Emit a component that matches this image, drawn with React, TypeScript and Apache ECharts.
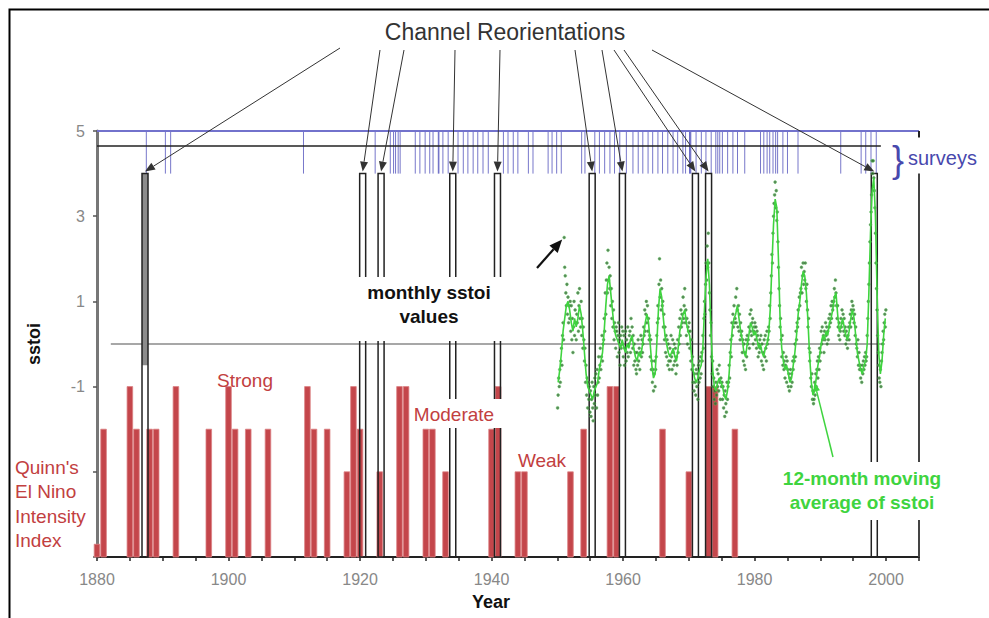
import React, { useEffect, useRef } from "react";
import * as echarts from "echarts";

// Quinn's El Nino intensity index (bar tops: -1 strong, -2 moderate, -3 weak)
const quinnYears = [1880, 1881, 1885, 1886, 1888, 1889, 1892, 1897, 1900, 1901, 1903, 1906, 1912, 1913, 1915, 1918, 1919, 1920, 1923, 1926, 1927, 1930, 1931, 1933, 1940, 1941, 1944, 1945, 1952, 1954, 1958, 1959, 1966, 1970, 1973, 1974, 1977];
const quinnLevel = [-4.7, -2, -1, -2, -2, -2, -1, -2, -1, -2, -2, -2, -1, -2, -2, -3, -1, -2, -3, -1, -1, -2, -2, -3, -2, -1, -3, -3, -3, -2, -1, -1, -2, -3, -1, -1, -2];

// Channel reorientations
const channelYears = [1887.3, 1920.4, 1923.2, 1934.1, 1940.9, 1955.3, 1959.9, 1971.0, 1973.0, 1998.2];
const channelShadeTo = [-0.5, 4, 4, 4, 4, 4, 4, 4, 4, 4];

// Surveys
const surveyYears = [1887.5, 1890.4, 1891.2, 1911.4, 1922.3, 1924.6, 1925.1, 1925.4, 1925.8, 1926.1, 1928.4, 1929.1, 1929.9, 1930.6, 1931.1, 1931.9, 1932.0, 1932.6, 1933.4, 1934.9, 1935.7, 1936.4, 1937.2, 1937.9, 1938.7, 1939.5, 1941.8, 1942.5, 1943.3, 1944.0, 1945.6, 1946.3, 1948.6, 1949.2, 1949.9, 1950.6, 1953.7, 1954.2, 1955.7, 1956.4, 1957.2, 1958.0, 1958.7, 1959.5, 1960.5, 1961.5, 1962.3, 1963.0, 1963.8, 1964.5, 1965.3, 1966.0, 1966.8, 1967.6, 1968.3, 1969.1, 1969.5, 1970.1, 1970.2, 1970.3, 1971.1, 1971.9, 1972.6, 1973.4, 1974.1, 1974.4, 1974.7, 1975.1, 1975.9, 1976.7, 1977.4, 1978.5, 1980.9, 1981.4, 1981.9, 1982.3, 1982.8, 1983.2, 1983.5, 1984.3, 1985.0, 1986.6, 1993.1, 1996.2, 1996.9, 1997.7, 1998.5];

// Monthly sstoi values, one row per year starting 1950
const sstoiStartYear = 1950;
const sstoiMonthly: number[][] = [
  [-1.5, -1.2, -0.8, -1.0, -0.6, -0.9, -0.4, -0.1, -0.5, 0.2, 0.5, 0.1],
  [2.5, 1.8, 1.6, 1.2, 0.9, 1.4, 0.7, 1.1, 0.5, 0.9, 0.6, 1.0],
  [0.3, 0.9, 0.1, 0.6, -0.2, 0.4, 1.0, 0.2, 0.8, 0.5, 0.1, 0.7],
  [0.5, 1.2, 0.3, 0.9, 1.3, 0.6, 0.4, 1.0, 0.2, 0.6, -0.1, 0.4],
  [0.1, -0.4, -0.1, -0.9, -0.5, -1.2, -0.8, -1.5, -0.9, -1.3, -1.0, -1.6],
  [-1.1, -1.7, -1.3, -0.9, -1.5, -1.8, -1.0, -1.4, -0.8, -1.2, -0.7, -1.5],
  [-0.6, -1.2, -0.9, -0.3, -0.8, -0.5, -0.1, -0.6, -0.3, 0.2, -0.4, 0.0],
  [0.1, 0.6, 0.3, 1.2, 0.7, 1.5, 1.9, 1.2, 2.2, 1.5, 1.8, 1.3],
  [1.6, 0.9, 1.3, 0.6, 1.0, 0.4, 0.8, 0.1, 0.5, 0.3, -0.1, 0.4],
  [0.3, -0.3, 0.2, 0.5, -0.2, 0.1, -0.5, 0.2, -0.1, 0.4, 0.0, 0.3],
  [-0.3, 0.2, -0.5, -0.1, 0.3, -0.4, 0.1, -0.2, 0.4, -0.3, 0.0, 0.2],
  [0.3, -0.2, 0.6, 0.1, 0.4, -0.1, 0.2, -0.5, 0.0, -0.4, -0.2, -0.6],
  [-0.7, -0.2, -0.5, 0.1, -0.4, -0.1, -0.6, -0.2, 0.2, -0.3, 0.1, -0.2],
  [0.0, 0.4, 0.2, 0.8, 0.3, 0.7, 1.0, 0.5, 0.9, 0.3, 0.6, 0.1],
  [0.2, -0.3, 0.1, -0.6, -0.4, -0.9, -0.6, -1.1, -0.7, -0.4, -1.0, -0.6],
  [-0.3, 0.2, 0.5, 0.9, 0.6, 1.4, 2.0, 1.1, 1.5, 0.8, 1.3, 0.9],
  [1.0, 0.4, 0.7, 0.1, 0.4, -0.2, 0.2, -0.3, 0.1, -0.5, 0.0, -0.4],
  [-0.6, -0.1, -0.4, 0.2, -0.3, -0.6, 0.1, -0.2, -0.5, 0.0, -0.4, -0.1],
  [-0.7, -0.3, -0.5, 0.1, -0.2, 0.4, 0.0, 0.6, 0.2, 0.8, 0.4, 0.7],
  [0.5, 1.1, 0.6, 0.9, 1.3, 0.5, 0.8, 0.2, 0.6, 0.0, 0.4, 0.3],
  [0.5, -0.1, 0.3, -0.4, 0.1, -0.6, -0.3, -0.9, -0.5, -1.1, -0.7, -0.9],
  [-1.2, -0.6, -1.0, -0.7, -1.3, -0.5, -0.9, -0.4, -0.8, -0.3, -0.7, -0.2],
  [-0.4, 0.2, -0.1, 0.6, 1.0, 0.7, 1.4, 1.9, 1.5, 2.3, 1.8, 2.6],
  [1.9, 1.2, 0.8, 0.2, 0.5, -0.3, -0.7, -0.4, -1.0, -0.8, -1.3, -1.1],
  [-1.4, -0.9, -1.2, -0.6, -1.0, -0.7, -1.1, -0.5, -0.9, -1.3, -0.8, -1.0],
  [-0.9, -1.3, -1.0, -1.5, -1.2, -1.7, -1.1, -1.4, -1.6, -0.9, -1.3, -1.0],
  [-0.9, -0.5, -0.8, -0.2, 0.1, -0.3, 0.5, 0.2, 0.7, 0.4, 0.9, 0.5],
  [0.6, 1.1, 0.5, 1.3, 0.8, 0.4, 0.9, 0.3, 0.7, 0.1, 0.5, 0.2],
  [0.3, -0.2, 0.1, -0.4, 0.0, -0.5, -0.2, -0.6, 0.1, -0.3, 0.2, 0.0],
  [0.1, 0.4, -0.1, 0.7, 0.3, 0.8, 0.2, 0.5, 0.6, 0.0, 0.3, 0.4],
  [0.5, 0.1, 0.4, -0.1, 0.3, 0.2, -0.3, 0.0, -0.2, 0.1, -0.1, 0.2],
  [-0.4, 0.0, -0.5, -0.2, -0.6, 0.1, -0.3, 0.2, -0.1, -0.4, 0.3, 0.0],
  [0.1, 0.4, 0.3, 0.9, 0.6, 1.2, 1.6, 2.1, 1.9, 2.6, 3.0, 3.3],
  [3.5, 3.8, 3.2, 3.6, 2.9, 3.1, 2.4, 1.8, 1.3, 0.9, 0.4, 0.6],
  [0.1, -0.3, 0.2, -0.5, -0.2, -0.6, -0.4, -0.8, -0.5, -0.3, -0.9, -0.4],
  [-0.6, -1.0, -0.7, -1.1, -0.8, -0.6, -1.0, -0.7, -0.9, -0.4, -0.6, -0.3],
  [-0.4, 0.0, -0.3, 0.3, 0.1, 0.5, 0.4, 0.8, 0.6, 1.1, 0.9, 1.2],
  [1.3, 1.8, 1.2, 1.6, 1.9, 1.4, 1.7, 1.5, 1.9, 1.3, 1.0, 1.4],
  [0.8, 0.4, 0.6, -0.1, -0.4, -0.2, -0.8, -1.0, -0.7, -1.3, -1.1, -1.4],
  [-1.3, -0.9, -1.2, -0.7, -1.0, -0.6, -0.4, -0.8, -0.3, -0.6, -0.1, -0.4],
  [-0.2, 0.3, 0.0, 0.4, 0.1, 0.2, -0.2, 0.3, 0.1, 0.5, 0.2, 0.4],
  [0.0, 0.3, 0.1, 0.6, 0.4, 0.7, 0.5, 0.9, 0.6, 1.0, 0.8, 0.9],
  [1.0, 1.3, 1.1, 1.5, 1.2, 0.9, 0.6, 0.9, 0.4, 0.2, 0.5, 0.1],
  [0.3, 0.6, 0.4, 0.8, 0.5, 0.7, 0.3, 0.6, 0.2, 0.4, 0.0, 0.3],
  [0.1, -0.1, 0.2, 0.4, 0.1, 0.5, 0.7, 0.4, 0.8, 1.0, 0.6, 0.9],
  [0.8, 0.5, 0.7, 0.2, 0.4, 0.0, -0.1, -0.3, 0.1, -0.5, -0.2, -0.6],
  [-0.5, -0.8, -0.6, -0.9, -0.5, -0.7, -0.4, -0.6, -0.3, -0.5, -0.2, -0.4],
  [-0.3, 0.2, 0.6, 1.0, 1.4, 1.9, 2.4, 2.8, 3.1, 3.5, 4.3, 4.0],
  [4.3, 3.9, 3.6, 3.2, 2.6, 1.9, 1.3, 0.8, 0.2, -0.2, -0.5, -0.8],
  [-0.9, -0.6, -1.0, -0.4, -0.2, 0.0, 0.3, 0.1, 0.5, 0.7, 0.4, 0.8],
];

// 12-month moving average of sstoi, read quarterly, one row per year starting 1950
const sstoiAverage: number[][] = [
  [-0.9, -0.6, -0.2, 0.3], [0.6, 0.9, 1.0, 0.8], [0.5, 0.3, 0.6, 0.4], [0.6, 0.9, 0.7, 0.3],
  [-0.2, -0.7, -1.0, -1.1], [-1.2, -1.3, -1.1, -1.0], [-0.9, -0.6, -0.4, -0.2], [0.3, 0.9, 1.4, 1.6],
  [1.2, 0.8, 0.4, 0.2], [0.1, 0.0, -0.1, 0.1], [-0.1, -0.2, 0.0, -0.1], [0.1, 0.2, -0.1, -0.3],
  [-0.4, -0.2, -0.3, -0.1], [0.2, 0.5, 0.7, 0.5], [0.0, -0.5, -0.8, -0.7], [0.0, 0.8, 1.3, 1.1],
  [0.6, 0.2, 0.0, -0.2], [-0.3, -0.2, -0.1, -0.3], [-0.4, -0.1, 0.3, 0.5], [0.7, 0.8, 0.5, 0.3],
  [0.2, -0.2, -0.6, -0.8], [-0.9, -0.8, -0.6, -0.5], [-0.1, 0.8, 1.6, 2.0], [1.4, 0.3, -0.6, -1.0],
  [-1.1, -0.9, -0.8, -0.9], [-1.0, -1.2, -1.3, -1.1], [-0.7, -0.1, 0.4, 0.6], [0.7, 0.9, 0.6, 0.3],
  [0.1, -0.2, -0.3, 0.0], [0.2, 0.5, 0.4, 0.2], [0.3, 0.1, -0.1, 0.0], [-0.2, -0.3, -0.1, 0.0],
  [0.2, 0.8, 1.8, 2.8], [3.4, 3.2, 2.0, 0.6], [-0.1, -0.4, -0.6, -0.5], [-0.7, -0.9, -0.8, -0.5],
  [-0.2, 0.2, 0.7, 1.0], [1.4, 1.7, 1.6, 1.2], [0.5, -0.3, -0.9, -1.2], [-1.1, -0.8, -0.5, -0.3],
  [0.0, 0.2, 0.1, 0.3], [0.2, 0.5, 0.6, 0.8], [1.1, 1.2, 0.7, 0.3], [0.4, 0.6, 0.4, 0.2],
  [0.1, 0.3, 0.6, 0.8], [0.6, 0.2, -0.2, -0.4], [-0.6, -0.7, -0.5, -0.4], [0.0, 1.2, 2.6, 3.6],
  [3.9, 3.0, 1.2, -0.2], [-0.7, -0.4, 0.2, 0.6],
];

const xTickLabels = [1880, 1900, 1920, 1940, 1960, 1980, 2000];
const yTickLabels = [5, 3, 1, -1];

const FONT = '"Liberation Sans", Arial, sans-serif';
const RED = "#c2403f";
const BLUE = "#4848ad";
const GREEN = "#3fd43f";

function arrow(sx: number, sy: number, tx: number, ty: number, color: string, lw: number, headLen: number, headHalf: number) {
  const dx = tx - sx, dy = ty - sy;
  const L = Math.hypot(dx, dy);
  const ux = dx / L, uy = dy / L;
  const bx = tx - ux * headLen, by = ty - uy * headLen;
  const nx = -uy, ny = ux;
  return [
    { type: "line", z: 120, shape: { x1: sx, y1: sy, x2: bx, y2: by }, style: { stroke: color, lineWidth: lw } },
    {
      type: "polygon", z: 121,
      shape: { points: [[tx, ty], [bx + nx * headHalf, by + ny * headHalf], [bx - nx * headHalf, by - ny * headHalf]] },
      style: { fill: color },
    },
  ];
}

function txt(x: number, y: number, text: string, font: string, fill: string, align = "center", extra: any = {}) {
  return { type: "text", z: 130, x, y, ...extra, style: { text, font, fill, textAlign: align, textVerticalAlign: "middle" } };
}

function bg(x: number, y: number, w: number, h: number) {
  return { type: "rect", z: 110, shape: { x, y, width: w, height: h }, style: { fill: "#ffffff" } };
}

export default function App() {
  const ref = useRef<HTMLDivElement>(null);

  useEffect(() => {
    const el = ref.current!;
    const chart = echarts.init(el, null, { renderer: "svg" });

    const quinnData = quinnYears.map((y, i) => [y, quinnLevel[i]]);
    const channelData = channelYears.map((y, i) => [y, channelShadeTo[i]]);
    const surveyData = surveyYears.map((y) => [y, 4]);
    const monthlyData = sstoiMonthly.flatMap((row, i) => row.map((v, m) => [sstoiStartYear + i + (m + 0.5) / 12, v]));
    const avgData = sstoiAverage.flatMap((row, i) => row.map((v, q) => [sstoiStartYear + i + (q + 0.5) / 4, v]));

    const plainLine = (data: number[][], color: string, width: number, z = 3) => ({
      type: "line", data, symbol: "none", silent: true, clip: false, z,
      lineStyle: { color, width }, animation: false,
    });

    const option: any = {
      animation: false,
      backgroundColor: "#ffffff",
      grid: { left: 97, right: 70, top: 131, bottom: 61, containLabel: false, outerBoundsMode: "none" },
      xAxis: {
        type: "value", min: 1880, max: 2005, interval: 5,
        name: "Year", nameLocation: "middle", nameGap: 36,
        nameTextStyle: { fontFamily: FONT, fontSize: 18, fontWeight: "bold", color: "#111", padding: [0, 34, 0, 0] },
        axisLine: { onZero: false, lineStyle: { color: "#222", width: 2 } },
        axisTick: { show: true, length: 4, lineStyle: { color: "#222", width: 1.5 } },
        axisLabel: {
          margin: 14, fontFamily: FONT, fontSize: 16, color: "#888",
          formatter: (v: number) => (xTickLabels.includes(v) ? String(v) : ""),
        },
        splitLine: { show: false },
      },
      yAxis: {
        type: "value", min: -5, max: 5, interval: 2,
        name: "sstoi", nameLocation: "middle", nameGap: 54, nameRotate: 90,
        nameTextStyle: { fontFamily: FONT, fontSize: 18, fontWeight: "bold", color: "#111" },
        axisLine: { show: true, lineStyle: { color: "#777", width: 3 } },
        axisTick: { show: true, length: 4, lineStyle: { color: "#555", width: 1.5 } },
        axisLabel: {
          margin: 12, fontFamily: FONT, fontSize: 16, color: "#888",
          formatter: (v: number) => (yTickLabels.includes(v) ? String(v) : ""),
        },
        splitLine: { show: false },
      },
      series: [
        {
          type: "custom", name: "Quinn's El Nino Intensity Index", data: quinnData, z: 2, silent: true,
          renderItem: (_p: any, api: any) => {
            const x = api.value(0), v = api.value(1);
            const top = api.coord([x, v]);
            const bot = api.coord([x, -5]);
            const w = 5.6;
            return {
              type: "rect",
              shape: { x: top[0] - w / 2, y: top[1], width: w, height: bot[1] - top[1] },
              style: { fill: "#c4464b", stroke: "#dc8284", lineWidth: 0.8 },
            };
          },
        },
        {
          type: "custom", name: "surveys", data: surveyData, z: 3, silent: true,
          renderItem: (_p: any, api: any) => {
            const x = api.value(0);
            const a = api.coord([x, 5]);
            const b = api.coord([x, 4]);
            return {
              type: "line",
              shape: { x1: a[0], y1: a[1], x2: b[0], y2: b[1] },
              style: { stroke: "#4a4ab8", lineWidth: 1, opacity: 0.75 },
            };
          },
        },
        plainLine([[1880, 5], [2005, 5]], "#7272cc", 2, 4),
        plainLine([[1880, 4.65], [1999.2, 4.65]], "#222", 1.5, 4),
        plainLine([[2005, 5], [2005, 4.85]], "#222", 2, 4),
        plainLine([[2005, 4], [2005, -5]], "#444", 2, 4),
        plainLine([[1882.1, 0], [1999.8, 0]], "#8a8a8a", 1.5, 4),
        {
          type: "custom", name: "Channel Reorientations", data: channelData, z: 5, silent: true,
          renderItem: (_p: any, api: any) => {
            const x = api.value(0), shade = api.value(1);
            const top = api.coord([x, 4]);
            const bot = api.coord([x, -5]);
            const w = 6;
            const children: any[] = [];
            if (shade < 4) {
              const s = api.coord([x, shade]);
              children.push({
                type: "rect",
                shape: { x: top[0] - w / 2, y: top[1], width: w, height: s[1] - top[1] },
                style: { fill: "#8c8c8c" },
              });
            }
            children.push({
              type: "rect",
              shape: { x: top[0] - w / 2, y: top[1], width: w, height: bot[1] - top[1] },
              style: { fill: "none", stroke: "#222", lineWidth: 1.5 },
            });
            return { type: "group", children };
          },
        },
        {
          type: "scatter", name: "monthly sstoi", data: monthlyData, z: 6, silent: true,
          symbol: "circle", symbolSize: 3,
          itemStyle: { color: "#2f6a2f", borderColor: "#5fd35f", borderWidth: 0.5 },
        },
        {
          type: "line", name: "12-month moving average of sstoi", data: avgData, z: 7, silent: true,
          symbol: "none", smooth: false, lineStyle: { color: GREEN, width: 1.6 },
        },
      ],
    };
    chart.setOption(option);

    const px = (p: number[]) => chart.convertToPixel({ gridIndex: 0 } as any, p) as unknown as number[];

    const arrowStarts = [[340, 48], [380, 50], [404, 50], [455, 50], [500, 50], [575, 50], [602, 50], [614, 50], [624, 50], [652, 50]];
    const elements: any[] = [];
    elements.push({ type: "rect", z: 140, shape: { x: 9.5, y: 9.5, width: 1000, height: 700 }, style: { fill: "none", stroke: "#000", lineWidth: 2 } });

    channelYears.forEach((y, i) => {
      const t = px([y, 4]);
      elements.push(...arrow(arrowStarts[i][0], arrowStarts[i][1], t[0], t[1] - 2, "#333", 1, 10, 4));
    });

    // backgrounds behind annotation text
    elements.push(bg(356, 277, 150, 64));
    elements.push(bg(410, 399, 100, 29));
    elements.push(bg(772, 462, 178, 58));

    elements.push(txt(505, 32, "Channel Reorientations", `23px ${FONT}`, "#333"));
    elements.push(txt(429, 292, "monthly sstoi", `bold 19px ${FONT}`, "#111"));
    elements.push(txt(429, 316, "values", `bold 19px ${FONT}`, "#111"));
    const mp = px([sstoiStartYear + 1 + 0.5 / 12, sstoiMonthly[1][0]]);
    elements.push(...arrow(537, 268, mp[0] - 2, mp[1] + 2, "#111", 2.2, 13, 5.5));

    elements.push(txt(862, 478, "12-month moving", `bold 19px ${FONT}`, GREEN));
    elements.push(txt(862, 502, "average of sstoi", `bold 19px ${FONT}`, GREEN));
    const gp = px([1989.1, -0.9]);
    elements.push(...arrow(833, 457, gp[0], gp[1], GREEN, 1.5, 9, 3.5));

    elements.push(txt(898, 159, "}", `36px ${FONT}`, BLUE));
    elements.push(txt(908, 158, "surveys", `20px ${FONT}`, BLUE, "left"));

    elements.push(txt(245, 380, "Strong", `19px ${FONT}`, RED));
    elements.push(txt(454, 414, "Moderate", `19px ${FONT}`, RED));
    elements.push(txt(542, 460, "Weak", `19px ${FONT}`, RED));
    elements.push(txt(15, 467, "Quinn's", `19px ${FONT}`, RED, "left"));
    elements.push(txt(15, 491, "El Nino", `19px ${FONT}`, RED, "left"));
    elements.push(txt(15, 516, "Intensity", `19px ${FONT}`, RED, "left"));
    elements.push(txt(15, 540, "Index", `19px ${FONT}`, RED, "left"));

    chart.setOption({ graphic: { elements } });

    return () => chart.dispose();
  }, []);

  return <div ref={ref} style={{ position: "fixed", left: 0, top: 0, width: 989, height: 618, background: "#fff" }} />;
}
